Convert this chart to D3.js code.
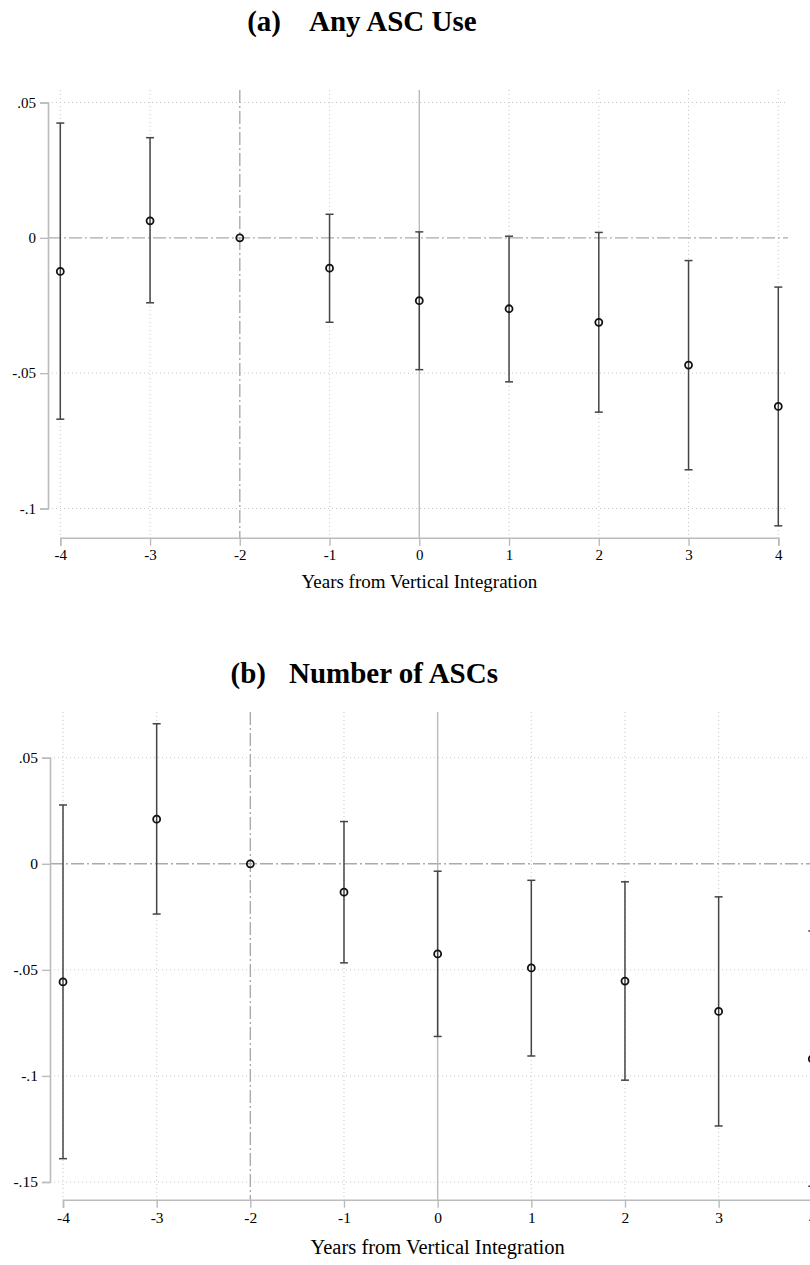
<!DOCTYPE html>
<html>
<head>
<meta charset="utf-8">
<script src="https://cdn.jsdelivr.net/npm/d3@7/dist/d3.min.js"></script>
<style>
  body { margin: 0; background: #fff; }
  svg { display: block; overflow: hidden; }
  text { font-family: "Liberation Serif", "Times New Roman", serif; fill: #000; }
</style>
</head>
<body>
<svg id="chart" width="810" height="1265"></svg>
<script>
// event-study estimates, years from vertical integration
var years = [-4, -3, -2, -1, 0, 1, 2, 3, 4];

// (a) Any ASC use
var anyCoef  = [-0.0124, 0.0063, 0, -0.0112, -0.0232, -0.0262, -0.0312, -0.047, -0.0623];
var anyLower = [-0.067, -0.024, null, -0.0312, -0.0487, -0.0532, -0.0644, -0.0857, -0.1064];
var anyUpper = [0.0424, 0.037, null, 0.0087, 0.0022, 0.0006, 0.002, -0.0084, -0.0182];
var anyTicks = [0.05, 0, -0.05, -0.1];

// (b) Number of ASCs
var numCoef  = [-0.0557, 0.021, 0, -0.0134, -0.0425, -0.0491, -0.0553, -0.0696, -0.092];
var numLower = [-0.139, -0.0237, null, -0.0467, -0.0814, -0.0906, -0.102, -0.1236, -0.152];
var numUpper = [0.0277, 0.066, null, 0.0199, -0.0035, -0.0078, -0.0085, -0.0156, -0.0317];
var numTicks = [0.05, 0, -0.05, -0.1, -0.15];

function fmt(v) {
    if (v == 0) return "0";
    var s = String(+v.toFixed(2));
    return s.replace("0.", ".");
}

var svg = d3.select("#chart");

function drawPanel(p) {
    var g = svg.append("g");
    var x = d3.scaleLinear().domain([-4, 4]).range(p.xr);
    var y = d3.scaleLinear().domain([p.ticks[0], p.ticks[p.ticks.length - 1]]).range(p.yr);

    // title: letter, then a wide gap, then the name
    g.append("text")
        .attr("x", p.letterEnd).attr("y", p.titleY)
        .attr("text-anchor", "end")
        .style("font-size", p.titleSize + "px").style("font-weight", "bold")
        .text(p.letter);
    g.append("text")
        .attr("x", p.nameStart).attr("y", p.titleY)
        .style("font-size", p.titleSize + "px").style("font-weight", "bold")
        .text(p.title);

    // grid
    g.append("g").selectAll("line").data(p.ticks.filter(function(d) { return d != 0; }))
        .enter().append("line")
        .attr("x1", p.axisX).attr("x2", p.right)
        .attr("y1", function(d) { return y(d); }).attr("y2", function(d) { return y(d); })
        .attr("stroke", "#c8c8c8").attr("stroke-width", 1).attr("stroke-dasharray", "1,3");
    g.append("g").selectAll("line").data(years.filter(function(d) { return d != 0 && d != -2; }))
        .enter().append("line")
        .attr("x1", function(d) { return x(d); }).attr("x2", function(d) { return x(d); })
        .attr("y1", p.top).attr("y2", p.base)
        .attr("stroke", "#c8c8c8").attr("stroke-width", 1).attr("stroke-dasharray", "1,3");

    // reference lines
    g.append("line")
        .attr("x1", p.axisX).attr("x2", p.right).attr("y1", y(0)).attr("y2", y(0))
        .attr("stroke", "#aaa").attr("stroke-width", 1.4).attr("stroke-dasharray", "13,3,2,3");
    g.append("line")
        .attr("x1", x(-2)).attr("x2", x(-2)).attr("y1", p.top).attr("y2", p.base)
        .attr("stroke", "#aaa").attr("stroke-width", 1.4).attr("stroke-dasharray", "13,3,2,3");
    g.append("line")
        .attr("x1", x(0)).attr("x2", x(0)).attr("y1", p.top).attr("y2", p.base)
        .attr("stroke", "#bbb").attr("stroke-width", 1.4);

    // y axis
    var ya = g.append("g").attr("transform", "translate(" + p.axisX + ",0)")
        .call(d3.axisLeft(y).tickValues(p.ticks).tickFormat(fmt).tickSize(8).tickPadding(4));
    ya.select(".domain").attr("stroke", "#bbb").attr("stroke-width", 1.6);
    ya.selectAll(".tick line").attr("stroke", "#bbb").attr("stroke-width", 1.4);
    ya.selectAll("text").style("font-size", p.tickSize + "px").attr("fill", "#000");

    // x axis
    var xa = g.append("g").attr("transform", "translate(0," + p.base + ")")
        .call(d3.axisBottom(x).tickValues(years).tickFormat(String).tickSize(8).tickPadding(4));
    xa.select(".domain").attr("stroke", "#bbb").attr("stroke-width", 1.6);
    xa.selectAll(".tick line").attr("stroke", "#bbb").attr("stroke-width", 1.4);
    xa.selectAll("text").style("font-size", p.tickSize + "px").attr("fill", "#000");

    g.append("text")
        .attr("x", (p.xr[0] + p.xr[1]) / 2).attr("y", p.labelY)
        .attr("text-anchor", "middle").style("font-size", p.labelSize + "px")
        .text("Years from Vertical Integration");

    // error bars
    var rows = years.map(function(d, i) {
        return { yr: d, b: p.coef[i], lo: p.lower[i], hi: p.upper[i] };
    });
    var bars = rows.filter(function(d) { return d.lo != null; });
    var eb = g.append("g").attr("stroke", "#444").attr("stroke-width", 1.5);
    eb.selectAll("line.v").data(bars).enter().append("line").attr("class", "v")
        .attr("x1", function(d) { return x(d.yr); }).attr("x2", function(d) { return x(d.yr); })
        .attr("y1", function(d) { return y(d.lo); }).attr("y2", function(d) { return y(d.hi); });
    eb.selectAll("line.lo").data(bars).enter().append("line").attr("class", "lo")
        .attr("x1", function(d) { return x(d.yr) - 4; }).attr("x2", function(d) { return x(d.yr) + 4; })
        .attr("y1", function(d) { return y(d.lo); }).attr("y2", function(d) { return y(d.lo); });
    eb.selectAll("line.hi").data(bars).enter().append("line").attr("class", "hi")
        .attr("x1", function(d) { return x(d.yr) - 4; }).attr("x2", function(d) { return x(d.yr) + 4; })
        .attr("y1", function(d) { return y(d.hi); }).attr("y2", function(d) { return y(d.hi); });

    g.append("g").selectAll("circle").data(rows).enter().append("circle")
        .attr("cx", function(d) { return x(d.yr); }).attr("cy", function(d) { return y(d.b); })
        .attr("r", 3.5).attr("fill", "none").attr("stroke", "#111").attr("stroke-width", 1.8);
}

drawPanel({
    letter: "(a)", title: "Any ASC Use", letterEnd: 281, nameStart: 309, titleY: 31, titleSize: 29,
    coef: anyCoef, lower: anyLower, upper: anyUpper, ticks: anyTicks,
    xr: [60.3, 778.3], yr: [102.5, 508.5], axisX: 48, right: 788,
    top: 90, base: 537.7, tickSize: 15, labelSize: 19, labelY: 587.5
});

drawPanel({
    letter: "(b)", title: "Number of ASCs", letterEnd: 266, nameStart: 289, titleY: 683, titleSize: 29,
    coef: numCoef, lower: numLower, upper: numUpper, ticks: numTicks,
    xr: [63, 812.3], yr: [757.7, 1182], axisX: 50, right: 824,
    top: 712, base: 1199.7, tickSize: 15.5, labelSize: 20.5, labelY: 1254
});
</script>
</body>
</html>
